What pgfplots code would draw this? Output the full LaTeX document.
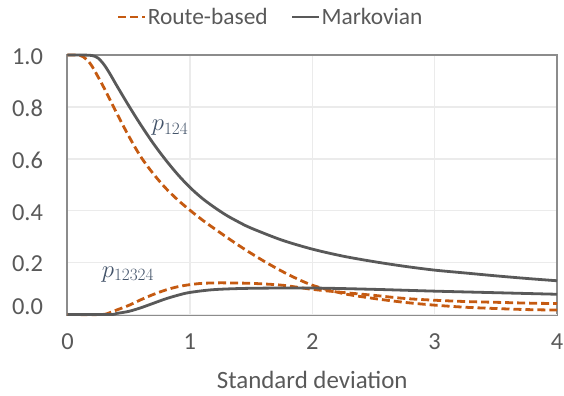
\documentclass[border=0pt]{standalone}
\usepackage{fontspec}
\setmainfont{Carlito}
\usepackage{pgfplots}
\pgfplotsset{compat=1.18}

\definecolor{route}{HTML}{C55A11}
\definecolor{markov}{HTML}{595959}
\definecolor{txt}{HTML}{595959}
\definecolor{gridc}{HTML}{EBEBEB}
\definecolor{framec}{HTML}{8C8C8C}
\definecolor{lbl}{HTML}{44546A}

\newcommand{\tickfont}{\fontsize{24.5}{28}\selectfont}
\newcommand{\titlefont}{\fontsize{25}{29}\selectfont}
\newcommand{\legfont}{\fontsize{23.5}{27}\selectfont}
% curve label: italic p with a large subscript
\newcommand{\plabel}[1]{$p_{\mbox{\fontsize{19}{19}\selectfont$#1$}}$}

\begin{document}
\begin{tikzpicture}
\useasboundingbox (-67.5bp,-81.5bp) rectangle (496.5bp,314.5bp);
\begin{axis}[
  at={(0,0)}, anchor=south west,
  scale only axis, width=489.5bp, height=259.5bp,
  xmin=0, xmax=4, ymin=0, ymax=1,
  xtick={0,1,2,3,4},
  ytick={0.2,0.4,0.6,0.8,1},
  extra y ticks={0},
  extra y tick style={yticklabel style={yshift=9bp}},
  grid=major,
  major grid style={gridc, line width=1.5bp},
  axis line style={framec, line width=2bp},
  major tick length=0pt,
  tick style={draw=none},
  /pgf/number format/assume math mode=true,
  ticklabel style={font=\tickfont, text=txt},
  yticklabel style={/pgf/number format/.cd, fixed, fixed zerofill, precision=1, /tikz/.cd, xshift=-21bp, yshift=-1.5bp},
  xticklabel style={yshift=-16bp},
  xlabel={Standard deviation},
  xlabel style={font=\titlefont, text=txt, at={(axis description cs:0.5,0)}, anchor=base, yshift=-73.5bp},
  legend style={at={(axis description cs:0.5,1)}, anchor=center, xshift=-42bp, yshift=38bp,
    draw=none, fill=none, font=\legfont, text=txt, legend columns=2,
    /tikz/every even column/.append style={column sep=22bp},
    nodes={inner sep=1bp}},
  legend image code/.code={\draw[#1] (0bp,0bp) -- (27bp,0bp);},
  clip=false,
]
% p124, route-based
\addplot[route, line width=2.8bp, dash pattern=on 8bp off 4bp, smooth] coordinates {
 (0,1.0) (0.1,0.999) (0.15,0.985) (0.2,0.957) (0.3,0.872) (0.4,0.778) (0.5,0.688)
 (0.6,0.607) (0.7,0.543) (0.8,0.488) (0.9,0.442) (1.0,0.402) (1.1,0.365) (1.2,0.331)
 (1.4,0.266) (1.6,0.207) (1.8,0.155) (2.0,0.113) (2.25,0.081) (2.5,0.062) (2.75,0.047)
 (3.0,0.036) (3.25,0.028) (3.5,0.023) (3.75,0.019) (4.0,0.017)};
\addlegendentry{Route-based}
% p124, Markovian
\addplot[markov, line width=2.8bp, smooth] coordinates {
 (0,1.0) (0.1,1.0) (0.2,0.998) (0.25,0.988) (0.3,0.962) (0.35,0.925) (0.4,0.884)
 (0.5,0.805) (0.6,0.73) (0.7,0.66) (0.8,0.597) (0.9,0.54) (1.0,0.49) (1.1,0.448)
 (1.2,0.413) (1.3,0.382) (1.4,0.356) (1.5,0.333) (1.75,0.287) (2.0,0.252)
 (2.25,0.225) (2.5,0.204) (2.75,0.186) (3.0,0.171) (3.25,0.16) (3.5,0.149)
 (3.75,0.139) (4.0,0.13)};
\addlegendentry{Markovian}
% p12324, route-based
\addplot[route, line width=2.8bp, dash pattern=on 8bp off 4bp, smooth, forget plot] coordinates {
 (0,0) (0.28,0) (0.35,0.008) (0.4,0.017) (0.5,0.035) (0.6,0.057) (0.7,0.077)
 (0.8,0.094) (0.9,0.107) (1.0,0.115) (1.1,0.12) (1.25,0.122) (1.5,0.12)
 (1.75,0.113) (2.0,0.097) (2.25,0.085) (2.5,0.074) (2.75,0.062) (3.0,0.055)
 (3.25,0.05) (3.5,0.047) (3.75,0.044) (4.0,0.042)};
% p12324, Markovian
\addplot[markov, line width=2.8bp, smooth, forget plot] coordinates {
 (0,0) (0.35,0) (0.4,0.004) (0.5,0.012) (0.6,0.026) (0.7,0.043) (0.8,0.06)
 (0.9,0.074) (1.0,0.085) (1.2,0.096) (1.5,0.101) (2.0,0.102) (2.5,0.097)
 (3.0,0.09) (3.5,0.084) (4.0,0.078)};
\node[anchor=base west, inner sep=0pt, text=lbl, font=\fontsize{26}{30}\selectfont]
  at (axis cs:0.688,0.709) {\plabel{124}};
\node[anchor=base west, inner sep=0pt, text=lbl, font=\fontsize{26}{30}\selectfont]
  at (axis cs:0.279,0.1445) {\plabel{12324}};
\end{axis}
\end{tikzpicture}
\end{document}
